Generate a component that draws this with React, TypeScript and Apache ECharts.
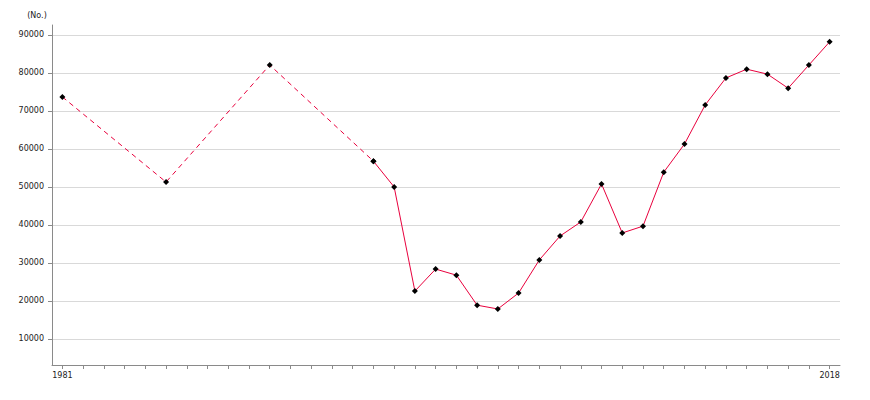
import React, { useEffect, useRef } from "react";
import * as echarts from "echarts";

const years: string[] = [];
for (let y = 1981; y <= 2018; y++) years.push(String(y));

// sparse early observations (dashed segment)
const earlyYears = ["1981", "1986", "1991", "1996"];
const earlyValues = [73700, 51300, 82100, 56800];

// annual observations (solid segment)
const annualYears = [
  "1996", "1997", "1998", "1999", "2000", "2001", "2002", "2003", "2004", "2005",
  "2006", "2007", "2008", "2009", "2010", "2011", "2012", "2013", "2014", "2015",
  "2016", "2017", "2018",
];
const annualValues = [
  56800, 50000, 22600, 28400, 26800, 18900, 17900, 22100, 30800, 37100,
  40800, 50800, 37900, 39700, 53900, 61300, 71600, 78700, 81000, 79700,
  76000, 82100, 88200,
];

const yName = "(No.)";

function toSeriesData(ys: string[], vs: number[]) {
  return years.map((y) => {
    const i = ys.indexOf(y);
    return i >= 0 ? vs[i] : null;
  });
}

export default function App() {
  const ref = useRef<HTMLDivElement>(null);
  useEffect(() => {
    if (!ref.current) return;
    const chart = echarts.init(ref.current, null, { renderer: "svg" });
    const font = "'DejaVu Sans', 'Noto Sans', sans-serif";
    chart.setOption({
      animation: false,
      grid: { left: 52, right: 30, top: 25, bottom: 35, containLabel: false },
      xAxis: {
        type: "category",
        data: years,
        boundaryGap: true,
        axisLine: { lineStyle: { color: "#8a8a8a", width: 1 } },
        axisTick: {
          show: true,
          alignWithLabel: true,
          interval: 0,
          length: 4,
          lineStyle: { color: "#8a8a8a", width: 1 },
        },
        axisLabel: {
          interval: (idx: number) => idx === 0 || idx === years.length - 1,
          color: "#222",
          fontSize: 8,
          fontFamily: font,
          margin: 6,
        },
        splitLine: { show: false },
      },
      yAxis: {
        type: "value",
        min: 3158,
        max: 92630,
        minInterval: 10000,
        maxInterval: 10000,
        name: yName,
        nameLocation: "end",
        nameGap: 6,
        nameTextStyle: {
          color: "#222",
          fontSize: 8,
          fontFamily: font,
          padding: [0, 30, 0, 0],
        },
        axisLine: { show: true, lineStyle: { color: "#8a8a8a", width: 1 } },
        axisTick: { show: true, length: 4, lineStyle: { color: "#8a8a8a" } },
        axisLabel: {
          showMinLabel: false,
          showMaxLabel: false,
          formatter: (v: number) => String(Math.round(v)),
          color: "#222",
          fontSize: 8,
          fontFamily: font,
          margin: 8,
        },
        splitLine: {
          show: true,
          showMinLine: false,
          showMaxLine: false,
          lineStyle: { color: "#d9d9d9", width: 1 },
        },
      },
      series: [
        {
          type: "line",
          data: toSeriesData(earlyYears, earlyValues),
          connectNulls: true,
          symbol: "diamond",
          symbolSize: 6,
          itemStyle: { color: "#000" },
          lineStyle: { color: "#e8003d", width: 1, type: [5, 4] },
          z: 2,
        },
        {
          type: "line",
          data: toSeriesData(annualYears, annualValues),
          connectNulls: false,
          symbol: "diamond",
          symbolSize: 6,
          itemStyle: { color: "#000" },
          lineStyle: { color: "#e8003d", width: 1 },
          z: 3,
        },
      ],
    });
    return () => chart.dispose();
  }, []);
  return <div ref={ref} style={{ width: 870, height: 400, margin: -8 }} />;
}
